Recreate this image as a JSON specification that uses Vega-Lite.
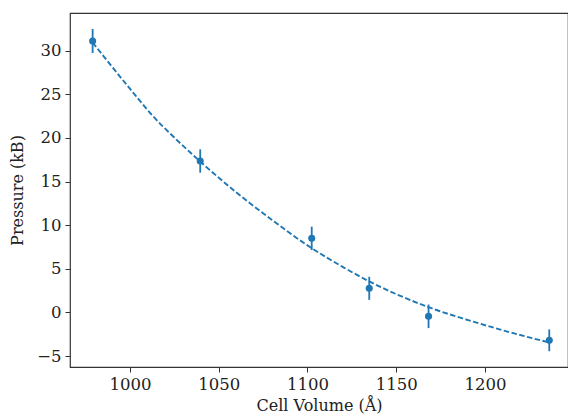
{
  "$schema": "https://vega.github.io/schema/vega-lite/v6.json",
  "width": 498,
  "height": 354,
  "autosize": {"type": "none"},
  "padding": {"left": 70, "top": 13, "right": 0, "bottom": 51},
  "background": "white",
  "config": {
    "view": {"stroke": "#333333", "strokeWidth": 1.2},
    "font": "DejaVu Serif",
    "axis": {
      "labelFont": "DejaVu Serif",
      "titleFont": "DejaVu Serif",
      "labelFontSize": 16.5,
      "titleFontSize": 16,
      "titleFontWeight": "normal",
      "labelColor": "#222222",
      "titleColor": "#222222",
      "tickColor": "#333333",
      "domainColor": "#333333",
      "tickSize": 5,
      "tickWidth": 1,
      "labelPadding": 4,
      "grid": false,
      "domain": false
    }
  },
  "datasets": {
    "obs": [
      {"V": 979.0, "P": 31.12, "err": 1.38},
      {"V": 1039.6, "P": 17.36, "err": 1.34},
      {"V": 1102.4, "P": 8.49, "err": 1.34},
      {"V": 1134.8, "P": 2.76, "err": 1.32},
      {"V": 1168.2, "P": -0.45, "err": 1.35},
      {"V": 1236.2, "P": -3.2, "err": 1.25}
    ],
    "fit": [
      {"V": 979.0, "P": 30.95},
      {"V": 1000, "P": 25.65},
      {"V": 1013, "P": 22.5},
      {"V": 1025, "P": 20.05},
      {"V": 1039.6, "P": 17.3},
      {"V": 1060, "P": 13.75},
      {"V": 1080, "P": 10.6},
      {"V": 1101, "P": 7.55},
      {"V": 1120, "P": 5.2},
      {"V": 1134.8, "P": 3.55},
      {"V": 1150, "P": 2.1},
      {"V": 1168.2, "P": 0.6},
      {"V": 1190, "P": -0.85},
      {"V": 1210, "P": -2.05},
      {"V": 1236.2, "P": -3.45}
    ]
  },
  "layer": [
    {
      "data": {"name": "fit"},
      "mark": {"type": "line", "color": "#1f77b4", "strokeWidth": 1.9, "strokeDash": [5.5, 2.5], "interpolate": "monotone"},
      "encoding": {
        "x": {"field": "V", "type": "quantitative", "title": "Cell Volume (Å)", "scale": {"domain": [966.25, 1246.75], "nice": false, "zero": false},
              "axis": {"values": [1000, 1050, 1100, 1150, 1200], "format": "d", "titlePadding": 5}},
        "y": {"field": "P", "type": "quantitative", "title": "Pressure (kB)", "scale": {"domain": [-6.26, 34.33], "nice": false, "zero": false},
              "axis": {"values": [-5, 0, 5, 10, 15, 20, 25, 30], "format": "d", "titlePadding": 11}}
      }
    },
    {
      "data": {"name": "obs"},
      "mark": {"type": "errorbar", "color": "#1f77b4", "thickness": 1.8},
      "encoding": {
        "x": {"field": "V", "type": "quantitative", "title": "Cell Volume (Å)"},
        "y": {"field": "P", "type": "quantitative", "title": "Pressure (kB)"},
        "yError": {"field": "err"}
      }
    },
    {
      "data": {"name": "obs"},
      "mark": {"type": "circle", "color": "#1f77b4", "opacity": 1, "size": 50},
      "encoding": {
        "x": {"field": "V", "type": "quantitative", "title": "Cell Volume (Å)"},
        "y": {"field": "P", "type": "quantitative", "title": "Pressure (kB)"}
      }
    }
  ]
}
